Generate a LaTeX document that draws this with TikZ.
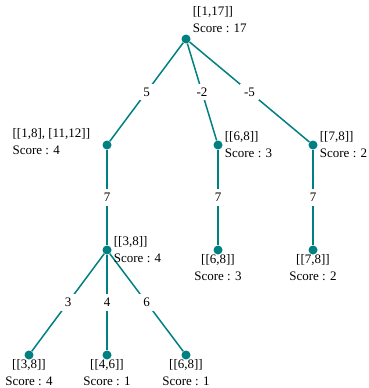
\documentclass[tikz,border=0pt]{standalone}
\usepackage{fontspec}
\setmainfont{Liberation Serif}
\usetikzlibrary{positioning}
\definecolor{treeteal}{RGB}{0,128,128}

\begin{document}
\begin{tikzpicture}[x=1pt, y=-1pt, font=\fontsize{13}{17}\selectfont,
  dot/.style={circle, fill=treeteal, inner sep=0pt, minimum size=9pt},
  edge/.style={line width=1.5pt, draw=treeteal},
  wt/.style={fill=white, inner sep=4pt},
  info/.style={align=left, inner sep=1pt}]
\useasboundingbox (0,0) rectangle (368,388);
\node[dot] (root) at (186,39) {};
\node[dot] (a) at (107,145) {}; \node[dot] (b) at (218,145) {}; \node[dot] (c) at (313,145) {};
\node[dot] (a1) at (107,250) {}; \node[dot] (b1) at (218,250) {}; \node[dot] (c1) at (313,250) {};
\node[dot] (d1) at (29,355) {}; \node[dot] (d2) at (107,355) {}; \node[dot] (d3) at (186,355) {};
\draw[edge] (root) -- node[wt] {5} (a); \draw[edge] (root) -- node[wt] {-2} (b); \draw[edge] (root) -- node[wt] {-5} (c);
\draw[edge] (a) -- node[wt] {7} (a1); \draw[edge] (b) -- node[wt] {7} (b1); \draw[edge] (c) -- node[wt] {7} (c1);
\draw[edge] (a1) -- node[wt] {3} (d1); \draw[edge] (a1) -- node[wt] {4} (d2); \draw[edge] (a1) -- node[wt] {6} (d3);
\node[info, anchor=west] (rootinfo) at ([shift={(1,-19)}]root.east) {[[1,17]]\\Score : 17};
\node[info, anchor=east] (ainfo) at ([shift={(-11,-3)}]a.west) {[[1,8], [11,12]]\\Score : 4};
\node[info, anchor=west] (binfo) at ([xshift=1pt]b.east) {[[6,8]]\\Score : 3};
\node[info, anchor=west] (cinfo) at ([xshift=1pt]c.east) {[[7,8]]\\Score : 2};
\node[info, anchor=west] (a1info) at ([xshift=1pt]a1.east) {[[3,8]]\\Score : 4};
\node[info, anchor=north, align=center] (b1info) at ([yshift=1pt]b1.south) {[[6,8]]\\Score : 3};
\node[info, anchor=north, align=center] (c1info) at ([yshift=1pt]c1.south) {[[7,8]]\\Score : 2};
\node[info, anchor=north, align=center] (d1info) at ([yshift=1pt]d1.south) {[[3,8]]\\Score : 4};
\node[info, anchor=north, align=center] (d2info) at ([yshift=1pt]d2.south) {[[4,6]]\\Score : 1};
\node[info, anchor=north, align=center] (d3info) at ([yshift=1pt]d3.south) {[[6,8]]\\Score : 1};
\end{tikzpicture}
\end{document}
